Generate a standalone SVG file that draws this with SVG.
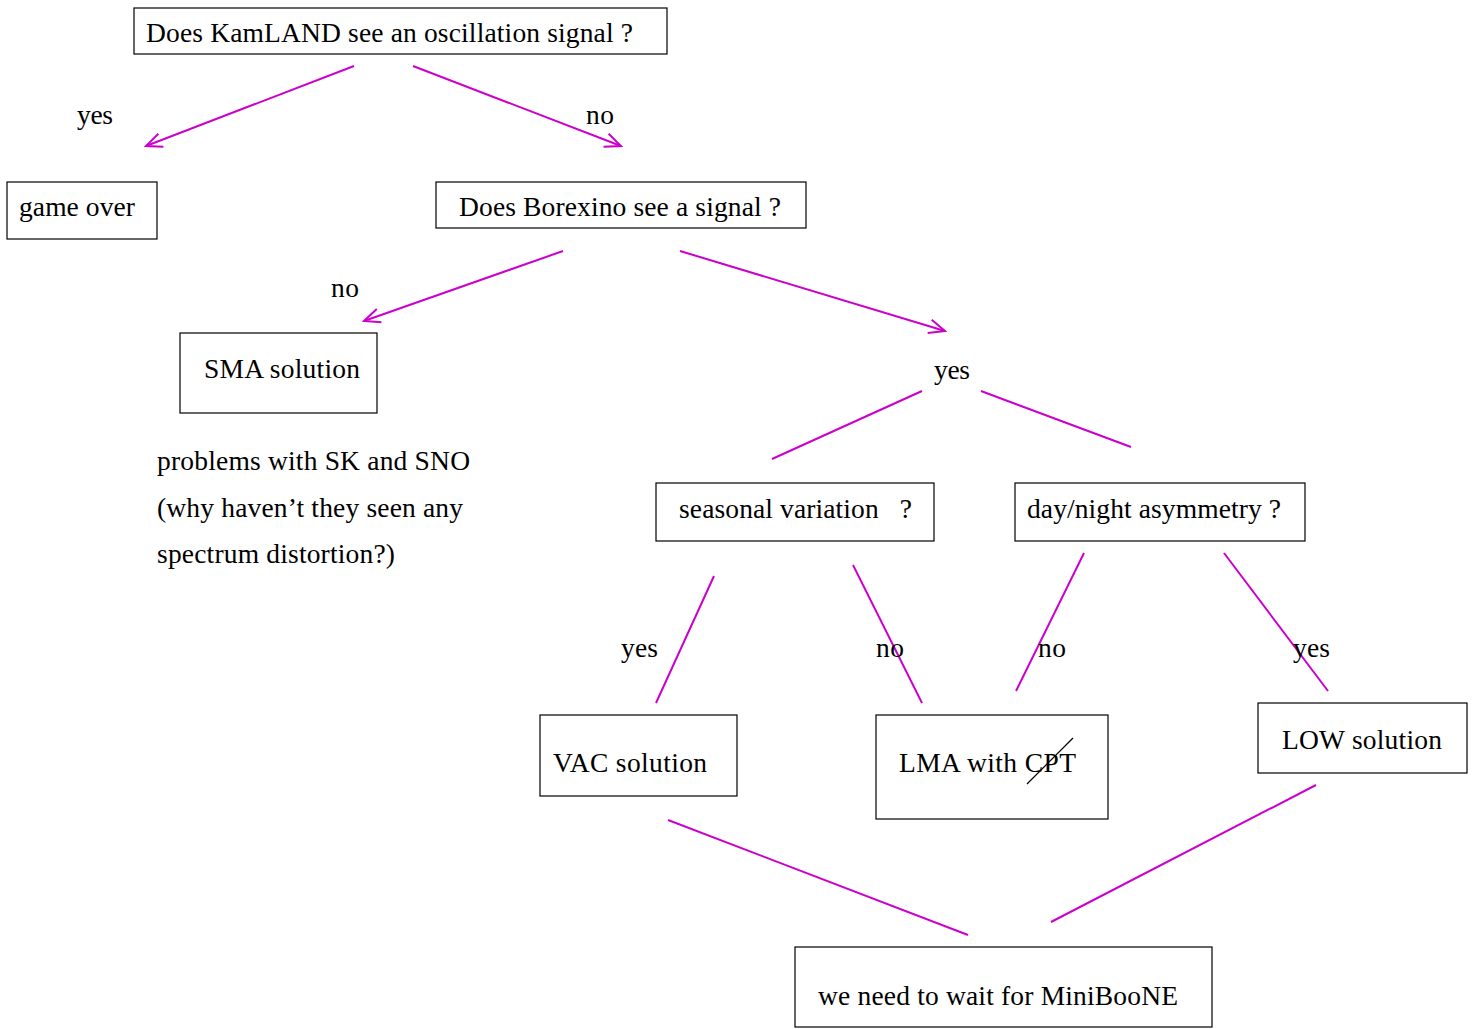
<svg xmlns="http://www.w3.org/2000/svg" width="1479" height="1029" viewBox="0 0 1479 1029">
<style>
.box{fill:#fff;stroke:#000;stroke-width:1.2}
text{font-family:"Liberation Serif","Times New Roman",serif;font-size:27.5px;fill:#000}
.c{stroke:#cc00cc;stroke-width:2;fill:none}
</style>
<defs>
<marker id="arr" viewBox="0 0 20 20" refX="18" refY="10" markerWidth="20" markerHeight="20" markerUnits="userSpaceOnUse" orient="auto">
<path d="M2,3 L18,10 L2,17" fill="none" stroke="#cc00cc" stroke-width="2"/>
</marker>
</defs>
<rect width="1479" height="1029" fill="#fff"/>
<g id="connectors">
<line class="c" x1="354" y1="66" x2="146" y2="146" marker-end="url(#arr)"/>
<line class="c" x1="413" y1="66" x2="621" y2="146" marker-end="url(#arr)"/>
<line class="c" x1="563" y1="251" x2="364" y2="321" marker-end="url(#arr)"/>
<line class="c" x1="680" y1="251" x2="945" y2="331" marker-end="url(#arr)"/>
<line class="c" x1="922" y1="391" x2="772" y2="459"/>
<line class="c" x1="981" y1="391" x2="1131" y2="447"/>
<line class="c" x1="714" y1="576" x2="656" y2="703"/>
<line class="c" x1="853" y1="565" x2="922" y2="703"/>
<line class="c" x1="1084" y1="553" x2="1016" y2="691"/>
<line class="c" x1="1224" y1="553" x2="1328" y2="691"/>
<line class="c" x1="668" y1="820" x2="968" y2="935"/>
<line class="c" x1="1316" y1="785" x2="1051" y2="922"/>
</g>
<g id="labels">
<text x="77" y="124" textLength="36">yes</text>
<text x="586" y="124" textLength="28">no</text>
<text x="331" y="297" textLength="28">no</text>
<text x="934" y="379" textLength="36">yes</text>
<text x="621" y="657" textLength="37">yes</text>
<text x="876" y="657" textLength="28">no</text>
<text x="1038" y="657" textLength="28">no</text>
<text x="1293" y="657" textLength="37">yes</text>
</g>
<g id="kamland"><rect class="box" x="134" y="8" width="533" height="46"/><text x="146" y="42" textLength="487">Does KamLAND see an oscillation signal ?</text></g>
<g id="gameover"><rect class="box" x="7" y="182" width="150" height="57"/><text x="19" y="216" textLength="116">game over</text></g>
<g id="borexino"><rect class="box" x="436" y="182" width="370" height="46"/><text x="459" y="216" textLength="322">Does Borexino see a signal ?</text></g>
<g id="sma"><rect class="box" x="180" y="333" width="197" height="80"/><text x="204" y="378" textLength="156">SMA solution</text></g>
<g id="problems">
<text x="157" y="470" textLength="313">problems with SK and SNO</text>
<text x="157" y="517" textLength="306">(why haven’t they seen any</text>
<text x="157" y="563" textLength="238">spectrum distortion?)</text>
</g>
<g id="seasonal"><rect class="box" x="656" y="483" width="278" height="58"/><text x="679" y="518" xml:space="preserve" textLength="233">seasonal variation   ?</text></g>
<g id="daynight"><rect class="box" x="1015" y="483" width="290" height="58"/><text x="1027" y="518" textLength="254">day/night asymmetry ?</text></g>
<g id="vac"><rect class="box" x="540" y="715" width="197" height="81"/><text x="553" y="772" textLength="154">VAC solution</text></g>
<g id="lma"><rect class="box" x="876" y="715" width="232" height="104"/><text x="899" y="772" textLength="177">LMA with CPT</text><line x1="1027" y1="784" x2="1073" y2="738" stroke="#000" stroke-width="1.2"/></g>
<g id="low"><rect class="box" x="1258" y="703" width="209" height="70"/><text x="1282" y="749" textLength="160">LOW solution</text></g>
<g id="miniboone"><rect class="box" x="795" y="947" width="417" height="80"/><text x="818" y="1005" textLength="360">we need to wait for MiniBooNE</text></g>
</svg>
